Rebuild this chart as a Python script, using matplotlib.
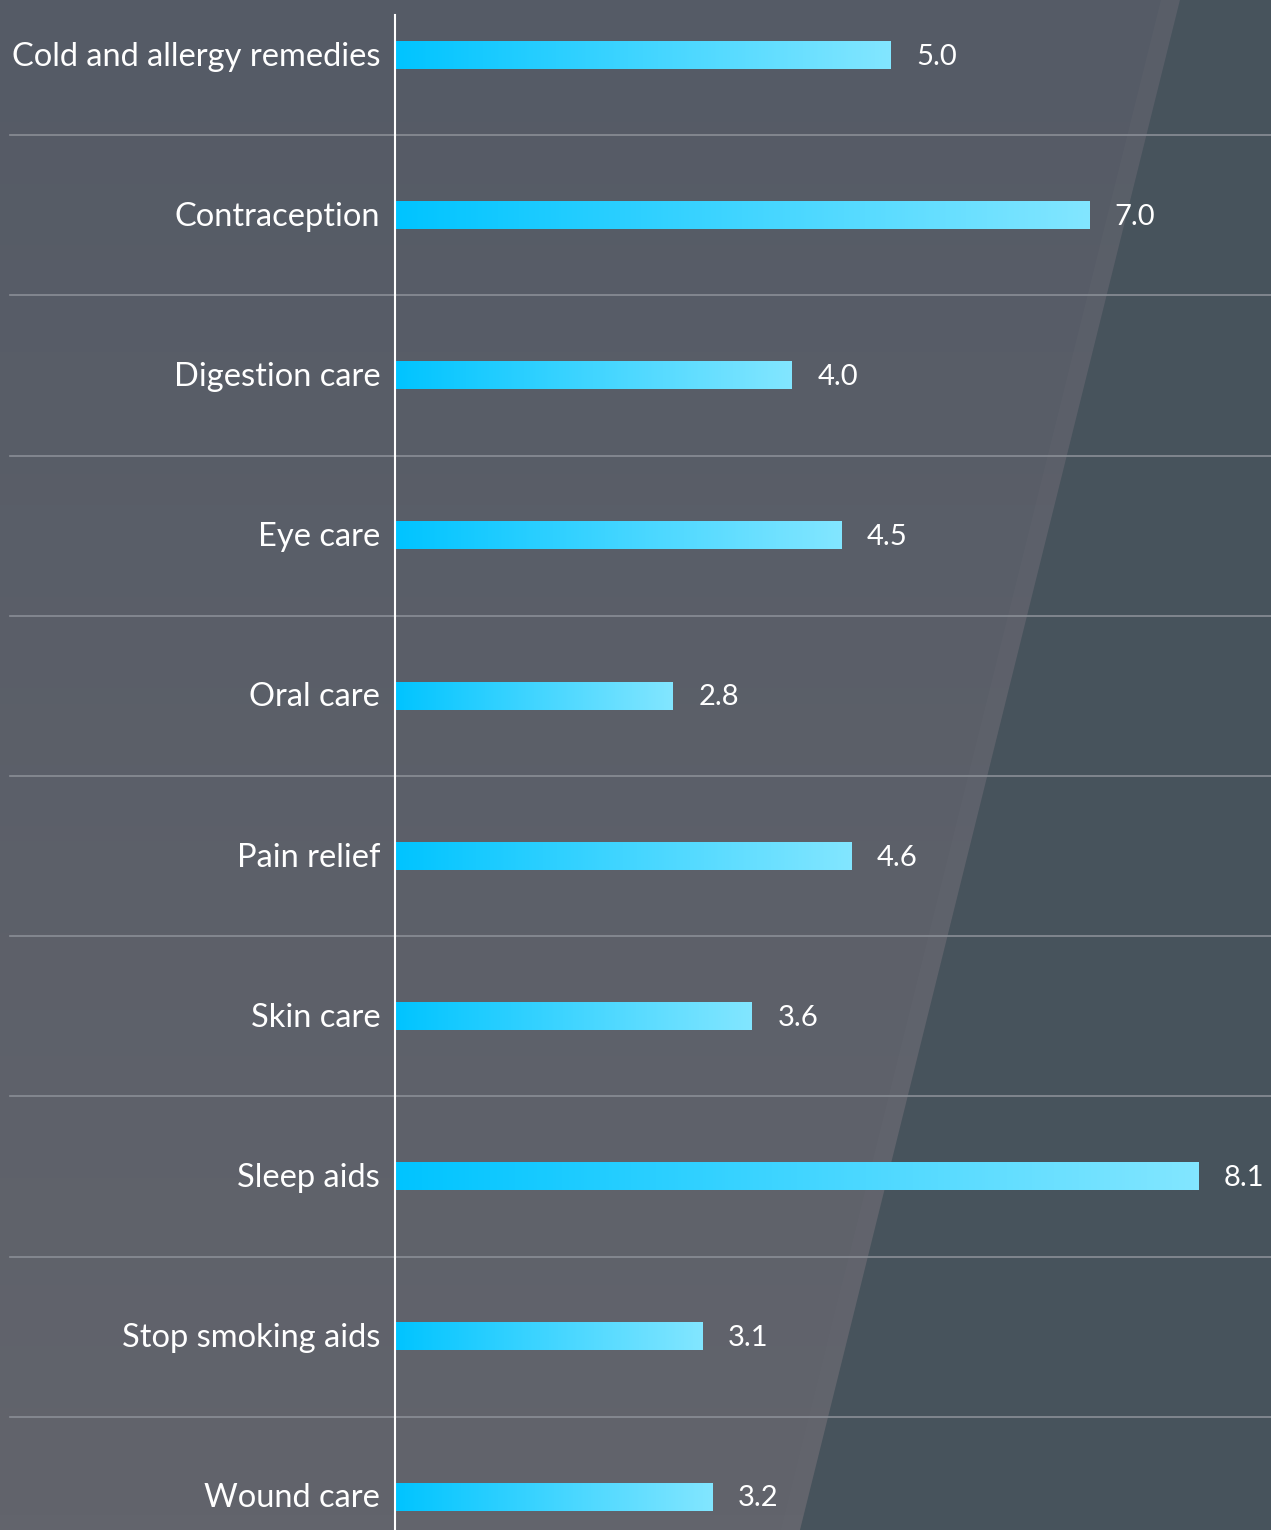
import numpy as np
import matplotlib.pyplot as plt
from matplotlib.colors import LinearSegmentedColormap
from matplotlib.patches import Polygon

categories = ['Cold and allergy remedies', 'Contraception', 'Digestion care', 'Eye care',
              'Oral care', 'Pain relief', 'Skin care', 'Sleep aids',
              'Stop smoking aids', 'Wound care']
values = [5.0, 7.0, 4.0, 4.5, 2.8, 4.6, 3.6, 8.1, 3.1, 3.2]
value_labels = ['5.0', '7.0', '4.0', '4.5', '2.8', '4.6', '3.6', '8.1', '3.1', '3.2']

W, H = 1271, 1530
fig = plt.figure(figsize=(W / 100, H / 100), dpi=100)
ax = fig.add_axes([0, 0, 1, 1])

# pixel geometry of the reference
px_per_unit = 99.15
x0_px = 395
row_px = 160.2
first_px = 55

ax.set_xlim(-x0_px / px_per_unit, (W - x0_px) / px_per_unit)
ax.set_ylim((H - first_px) / row_px, -first_px / row_px)
ax.axis('off')

# background: grey with darker diagonal region on the right
bg = LinearSegmentedColormap.from_list('bg', ['#555b66', '#62646c'])
ax.imshow(np.linspace(0, 1, 100).reshape(-1, 1), cmap=bg, aspect='auto',
          extent=[0, 1, 0, 1], transform=ax.transAxes, zorder=0)
top_x, bot_x = 1180 / W, 800 / W
ax.add_patch(Polygon([(top_x - 0.015, 1), (top_x, 1), (bot_x, 0), (bot_x - 0.015, 0)], closed=True,
                     transform=ax.transAxes, facecolor='#6a6c75', edgecolor='none', alpha=0.2, zorder=0.5))
ax.add_patch(Polygon([(top_x, 1), (1, 1), (1, 0), (bot_x, 0)], closed=True,
                     transform=ax.transAxes, facecolor='#47535c', edgecolor='none', zorder=0.5))

# separators and axis line
for i in range(len(categories) - 1):
    ax.axhline(i + 0.5, xmin=10 / W, xmax=1, color='#8a8e96', lw=1.2, zorder=1)
ax.plot([0, 0], [-0.25, len(categories)], color='white', lw=1.5, zorder=3, clip_on=False)

# gradient bars
grad = LinearSegmentedColormap.from_list('bar', ['#00c4ff', '#82e6ff'])
bar_h = 0.172
for i, (cat, v, lab) in enumerate(zip(categories, values, value_labels)):
    ax.imshow(np.linspace(0, 1, 256).reshape(1, -1), cmap=grad, aspect='auto',
              extent=[0, v, i + bar_h / 2, i - bar_h / 2], zorder=2, interpolation='bilinear')
    ax.text(-0.15, i + 0.01, cat, ha='right', va='center', color='white', fontsize=23.5,
            family='Lato', zorder=4)
    ax.text(v + 0.26, i + 0.01, lab, ha='left', va='center', color='white', fontsize=21,
            family='Lato', zorder=4)

ax.set_xlim(-x0_px / px_per_unit, (W - x0_px) / px_per_unit)
ax.set_ylim((H - first_px) / row_px, -first_px / row_px)

fig.savefig('out.png', dpi=100, facecolor='#5a5e68')
